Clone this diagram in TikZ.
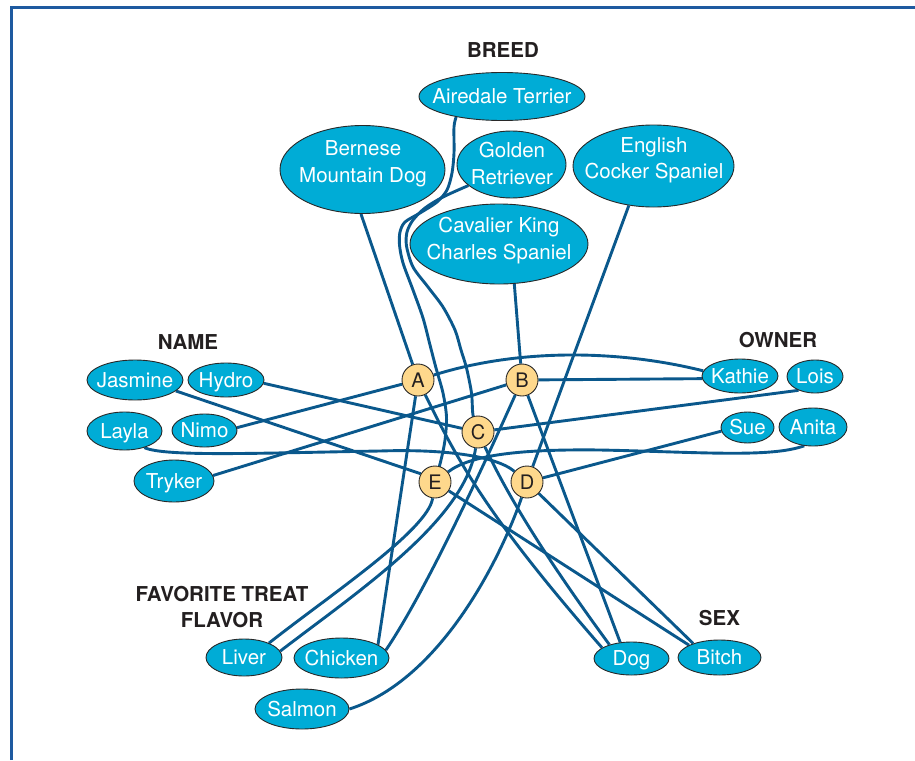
\documentclass[tikz,border=0pt]{standalone}
\usepackage{fontspec}
\setmainfont{TeX Gyre Heros}
\usetikzlibrary{shapes.geometric,backgrounds}
\definecolor{ellcyan}{RGB}{0,172,214}
\definecolor{linkblue}{RGB}{10,88,140}
\definecolor{dogyellow}{RGB}{254,216,140}
\definecolor{edgegray}{RGB}{40,40,40}
\definecolor{darktext}{RGB}{35,31,32}
\definecolor{framebl}{RGB}{30,90,160}
\tikzset{
  ell/.style={ellipse, draw=edgegray, line width=0.9pt, fill=ellcyan, inner sep=0pt},
  etext/.style={text=white, font=\fontsize{20.5}{26.5}\selectfont, align=center, inner sep=0pt},
  etextone/.style={text=white, font=\fontsize{20.5}{26.5}\selectfont, inner sep=0pt, text height=14.7pt, text depth=0pt},
  dogc/.style={circle, draw=edgegray, line width=0.9pt, fill=dogyellow, minimum size=32pt, inner sep=0pt,
    font=\fontsize{20}{24}\selectfont, text=darktext, text height=14.3pt, text depth=0pt},
  cat/.style={font=\bfseries\fontsize{20.5}{26}\selectfont, text=darktext, align=center, inner sep=0pt},
  link/.style={draw=linkblue, line width=2.9pt},
}
\begin{document}
\begin{tikzpicture}[x=1pt,y=-1pt]
\useasboundingbox (0,0) rectangle (915,760);
\draw[framebl, line width=3pt] (11.5,760) -- (11.5,7.5) -- (915,7.5);

% category labels
\node[cat, text height=14.7pt, text depth=0pt] (lbreed) at (503,50) {BREED};
\node[cat, text height=14.7pt, text depth=0pt] (lname) at (188,342) {NAME};
\node[cat, text height=14.7pt, text depth=0pt] (lowner) at (778,340) {OWNER};
\node[cat] (ltreat) at (222,607) {FAVORITE TREAT\\FLAVOR};
\node[cat, text height=14.7pt, text depth=0pt] (lsex) at (719.5,618) {SEX};

% breeds
\node[ell, minimum width=166pt, minimum height=48pt] (air) at (502,96.5) {};
\node[etextone] (airT) at (air) {Airedale Terrier};
\node[ell, minimum width=165pt, minimum height=88pt] (bern) at (362.5,169.5) {};
\node[etext] (bernT) at (363,164) {Bernese\\Mountain Dog};
\node[ell, minimum width=109pt, minimum height=67pt] (gold) at (511.5,164.5) {};
\node[etext] (goldT) at (512,163.5) {Golden\\Retriever};
\node[ell, minimum width=161pt, minimum height=82pt] (eng) at (653.5,166) {};
\node[etext] (engT) at (654,160.5) {English\\Cocker Spaniel};
\node[ell, minimum width=178pt, minimum height=80pt] (cav) at (499,244) {};
\node[etext] (cavT) at (499,240.5) {Cavalier King\\Charles Spaniel};

% names
\node[ell, minimum width=96pt, minimum height=40pt] (jas) at (135,380) {};
\node[etextone] (jasT) at (jas) {Jasmine};
\node[ell, minimum width=76pt, minimum height=34pt] (hydro) at (226,380) {};
\node[etextone] (hydroT) at (hydro) {Hydro};
\node[ell, minimum width=75pt, minimum height=38pt] (layla) at (124.5,431) {};
\node[etextone] (laylaT) at (layla) {Layla};
\node[ell, minimum width=65pt, minimum height=33pt] (nimo) at (204.5,430.5) {};
\node[etextone] (nimoT) at (nimo) {Nimo};
\node[ell, minimum width=80pt, minimum height=42pt] (tryker) at (174,481) {};
\node[etextone] (trykerT) at (tryker) {Tryker};

% owners
\node[ell, minimum width=76pt, minimum height=34pt] (kathie) at (740,376) {};
\node[etextone] (kathieT) at (kathie) {Kathie};
\node[ell, minimum width=56pt, minimum height=33pt] (lois) at (815,376.5) {};
\node[etextone] (loisT) at (lois) {Lois};
\node[ell, minimum width=53pt, minimum height=31pt] (sue) at (747.5,427.5) {};
\node[etextone] (sueT) at (sue) {Sue};
\node[ell, minimum width=68pt, minimum height=38pt] (anita) at (813,427) {};
\node[etextone] (anitaT) at (anita) {Anita};

% treats
\node[ell, minimum width=76pt, minimum height=37pt] (liver) at (244,657.5) {};
\node[etextone] (liverT) at (liver) {Liver};
\node[ell, minimum width=95pt, minimum height=40pt] (chicken) at (341.5,658) {};
\node[etextone] (chickenT) at (chicken) {Chicken};
\node[ell, minimum width=94pt, minimum height=40pt] (salmon) at (302,709) {};
\node[etextone] (salmonT) at (salmon) {Salmon};

% sex
\node[ell, minimum width=75pt, minimum height=33pt] (dog) at (631.5,658.5) {};
\node[etextone] (dogT) at (dog) {Dog};
\node[ell, minimum width=83pt, minimum height=35pt] (bitch) at (719.5,657.5) {};
\node[etextone] (bitchT) at (bitch) {Bitch};

% dogs
\node[dogc] (A) at (418,380) {A};
\node[dogc] (B) at (522,380) {B};
\node[dogc] (C) at (478,432) {C};
\node[dogc] (E) at (435,482) {E};
\node[dogc] (D) at (527,482) {D};

\begin{pgfonlayer}{background}
% breeds
\draw[link] (bern.-92) -- (A);
\draw[link] plot[smooth, tension=0.5] coordinates {(air.-156) (454,127) (454,153) (452,173) (447,190) (437,202) (420,213) (405,222) (400,232) (399.5,245) (403,263) (413,290) (423,318) (430,345) (436,368) (443,393) (446.5,417) (445,440) (441,460) (E)};
\draw[link] plot[smooth, tension=0.5] coordinates {(gold.-154) (443,197) (425,208) (413,220) (407,232) (406.5,246) (413,267) (428,287) (443,307) (455,330) (461,350) (466.5,368) (471.5,393) (473,415) (C)};
\draw[link] (cav.-69) -- (B);
\draw[link] (eng.-122) -- (D);
% names
\draw[link] (jas.-15) -- (E.150);
\draw[link] (hydro.-5) -- (C);
\draw[link] (layla.-40) .. controls (165,457) and (260,453) .. (380,451) .. controls (440,449) and (495,455) .. (D);
\draw[link] (nimo.5) -- (A);
\draw[link] (tryker.8) -- (B);
% owners
\draw[link] (A) .. controls (520,348) and (620,350) .. (kathie.172);
\draw[link] (B) -- (kathie.184);
\draw[link] (C) -- (lois.-140);
\draw[link] (D) -- (sue.188);
\draw[link] (E) .. controls (470,455) and (520,449) .. (600,450) .. controls (700,452) and (770,458) .. (anita.-115);
% treats
\draw[link] (A) -- (chicken.20);
\draw[link] (B) .. controls (495,440) and (430,585) .. (chicken.10);
\draw[link] (C) .. controls (465,520) and (360,590) .. (liver.10);
\draw[link] (E) .. controls (428,530) and (330,595) .. (liver.30);
\draw[link] (D) .. controls (500,560) and (440,680) .. (salmon.east);
% sex
\draw[link] (A) .. controls (462,470) and (495,525) .. (dog.160);
\draw[link] (B) -- (dog.125);
\draw[link] (C) .. controls (505,490) and (540,550) .. (dog.148);
\draw[link] (D) -- (bitch.152);
\draw[link] (E) -- (bitch.158);
\end{pgfonlayer}
\end{tikzpicture}
\end{document}
